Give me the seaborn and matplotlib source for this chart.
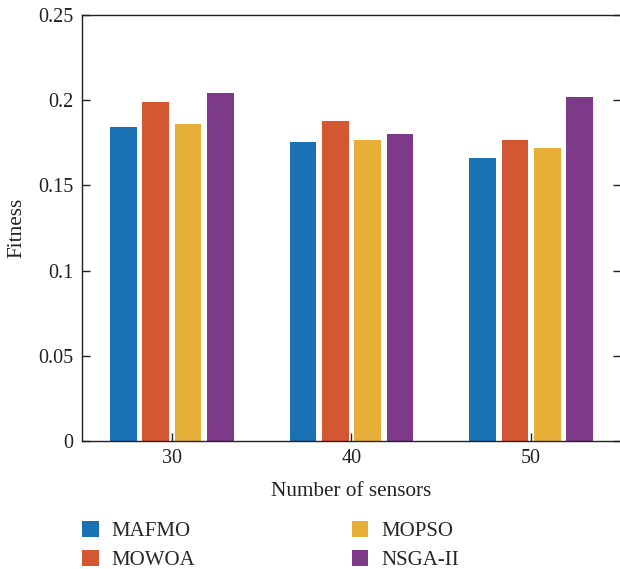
import matplotlib
matplotlib.use("Agg")
import matplotlib.pyplot as plt
import seaborn as sns
import pandas as pd
from matplotlib.ticker import FixedLocator, FuncFormatter

sensors = [30, 40, 50]
algorithms = ["MAFMO", "MOWOA", "MOPSO", "NSGA-II"]
mafmo = [0.1843, 0.1755, 0.1661]
mowoa = [0.1990, 0.1878, 0.1766]
mopso = [0.1862, 0.1766, 0.1719]
nsga2 = [0.2042, 0.1802, 0.2019]
colors = ["#1a71b4", "#d35831", "#e6b038", "#7d3a89"]
yticks = [0, 0.05, 0.1, 0.15, 0.2, 0.25]

rows = []
for name, vals in zip(algorithms, [mafmo, mowoa, mopso, nsga2]):
    for s, v in zip(sensors, vals):
        rows.append({"sensors": s, "fitness": v, "algo": name})
df = pd.DataFrame(rows)

sns.set_style("white")
plt.rcParams["font.family"] = ["Liberation Serif", "DejaVu Serif"]
plt.rcParams["font.size"] = 14.5

fig = plt.figure(figsize=(6.2, 5.69), dpi=100)
ax = fig.add_axes([82 / 620, 1 - 441 / 569, (621 - 82) / 620, (441 - 15) / 569])

sns.barplot(data=df, x="sensors", y="fitness", hue="algo", hue_order=algorithms,
            palette=colors, saturation=1, native_scale=True, width=0.72, gap=0.18,
            errorbar=None, ax=ax, legend=True, linewidth=0)

ax.set_xlim(25, 55)
ax.set_ylim(0, 0.25)
ax.xaxis.set_major_locator(FixedLocator(sensors))
ax.yaxis.set_major_locator(FixedLocator(yticks))
ax.yaxis.set_major_formatter(FuncFormatter(lambda v, p: f"{v:g}"))
ax.set_xlabel("Number of sensors", fontsize=15.3, color="#222222", labelpad=10)
ax.set_ylabel("Fitness", fontsize=15.3, color="#222222", labelpad=9)

for sp in ax.spines.values():
    sp.set_visible(True)
    sp.set_color("#222222")
    sp.set_linewidth(1.0)
ax.tick_params(axis="both", direction="in", length=6, width=1.0, colors="#222222",
               labelsize=14.5, labelcolor="#222222")
ax.tick_params(axis="y", which="both", left=True, right=True, pad=6)
ax.tick_params(axis="x", which="both", bottom=True, top=False, pad=6)

sns.move_legend(ax, "upper left", bbox_to_anchor=(82 / 620, 1 - 521 / 569),
                bbox_transform=fig.transFigure, ncol=2, frameon=False, title=None,
                fontsize=15, handlelength=0.8, handleheight=0.8, handletextpad=0.63,
                columnspacing=7.5, labelspacing=0.42, borderpad=0, borderaxespad=0)

fig.savefig("out.png", dpi=100)
